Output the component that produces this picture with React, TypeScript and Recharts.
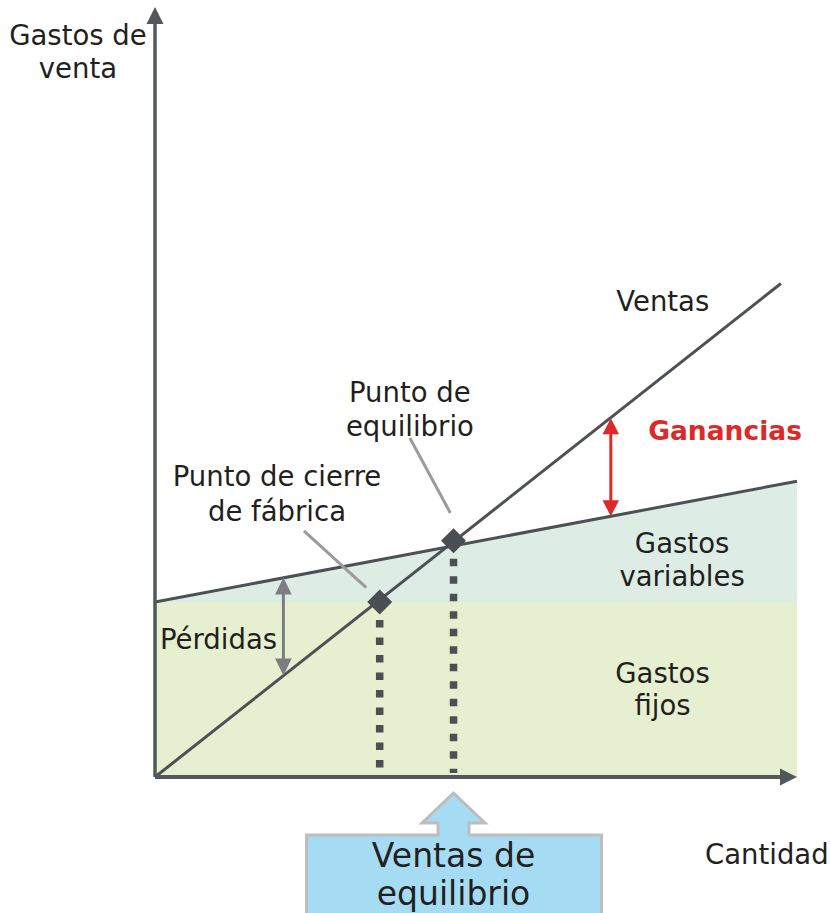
import React from "react";
import {
  Area,
  ComposedChart,
  Line,
  ReferenceDot,
  ReferenceLine,
  XAxis,
  YAxis,
} from "recharts";

// break-even diagram, values (arbitrary units)
const fixedCost = 100;
const costQty = [0, 100];
const costTotal = [100, 169];
const salesQty = [0, 97.5];
const salesAmount = [0, 282];
const shutdownPoint = { q: 35, v: 100 };
const breakEvenPoint = { q: 46.5, v: 135 };
const lossArrow = { q: 20, from: 114, to: 58 };
const profitArrow = { q: 71, from: 205, to: 149 };

const costRows = costQty.map((q, i) => ({
  q,
  fixed: fixedCost,
  total: costTotal[i],
  band: [fixedCost, costTotal[i]],
}));
const salesRows = salesQty.map((q, i) => ({ q, sales: salesAmount[i] }));

const FONT = "'DejaVu Sans', Verdana, sans-serif";
const INK = "#231f20";

function arrowHead(x: number, y: number, ux: number, uy: number, len: number, half: number) {
  const bx = x - ux * len;
  const by = y - uy * len;
  const px = -uy * half;
  const py = ux * half;
  return `${x},${y} ${bx + px},${by + py} ${bx - px},${by - py}`;
}

function Arrow(props: any) {
  const { x1, y1, x2, y2, color, width, len, half, both } = props;
  const dx = x2 - x1;
  const dy = y2 - y1;
  const d = Math.hypot(dx, dy) || 1;
  const ux = dx / d;
  const uy = dy / d;
  const sx = both ? x1 + ux * (len - 1) : x1;
  const sy = both ? y1 + uy * (len - 1) : y1;
  return (
    <g>
      <line
        x1={sx}
        y1={sy}
        x2={x2 - ux * (len - 1)}
        y2={y2 - uy * (len - 1)}
        stroke={color}
        strokeWidth={width}
      />
      <polygon points={arrowHead(x2, y2, ux, uy, len, half)} fill={color} />
      {both && <polygon points={arrowHead(x1, y1, -ux, -uy, len, half)} fill={color} />}
    </g>
  );
}

function Drop(props: any) {
  const { x1, y1, x2, y2 } = props;
  const top = Math.min(y1, y2) + 18;
  const bottom = Math.max(y1, y2) - 4;
  return (
    <line
      x1={x1}
      y1={top}
      x2={x2}
      y2={bottom}
      stroke="#4c4f54"
      strokeWidth={7.5}
      strokeDasharray="7.5 10"
    />
  );
}

function Diamond(props: any) {
  const { cx, cy } = props;
  const r = 12.5;
  return (
    <polygon
      points={`${cx},${cy - r} ${cx + r},${cy} ${cx},${cy + r} ${cx - r},${cy}`}
      fill="#4a4d52"
    />
  );
}

function Note(props: any) {
  const { cx, cy, lines, size = 27.5, bold, color = INK, anchor = "middle", lh = 34 } = props;
  return (
    <text
      x={cx}
      y={cy}
      fontFamily={FONT}
      fontSize={size}
      fontWeight={bold ? 700 : 400}
      fill={color}
      textAnchor={anchor}
    >
      {lines.map((t: string, i: number) => (
        <tspan key={i} x={cx} dy={i === 0 ? 0 : lh}>
          {t}
        </tspan>
      ))}
    </text>
  );
}

function EquilibriumBox(props: any) {
  const { cx, cy } = props;
  const x = cx;
  const y = cy;
  const path = [
    `M${x - 147},${y + 140}`,
    `L${x - 147},${y + 58}`,
    `L${x - 15.5},${y + 58}`,
    `L${x - 15.5},${y + 46}`,
    `L${x - 31.5},${y + 46}`,
    `L${x},${y + 16}`,
    `L${x + 31.5},${y + 46}`,
    `L${x + 15.5},${y + 46}`,
    `L${x + 15.5},${y + 58}`,
    `L${x + 148},${y + 58}`,
    `L${x + 148},${y + 140}`,
  ].join(" ");
  return (
    <g>
      <path d={path} fill="#a6dbf4" stroke="#bdbdbd" strokeWidth={3} />
      <text x={x} y={y + 90} fontFamily={FONT} fontSize={33} fill={INK} textAnchor="middle">
        <tspan x={x}>Ventas de</tspan>
        <tspan x={x} dy={38}>
          equilibrio
        </tspan>
      </text>
    </g>
  );
}

export default function App() {
  return (
    <div
      style={{
        position: "absolute",
        left: 0,
        top: 0,
        width: 831,
        height: 913,
        background: "#fff",
        overflow: "hidden",
      }}
    >
      <ComposedChart
        width={831}
        height={913}
        data={costRows}
        margin={{ top: 7, right: 34, bottom: 136, left: 155 }}
      >
        <XAxis type="number" dataKey="q" domain={[0, 100]} hide />
        <YAxis type="number" domain={[0, 440]} hide />
        <Area
          dataKey="fixed"
          fill="#e6efd0"
          fillOpacity={1}
          stroke="none"
          isAnimationActive={false}
        />
        <Area
          dataKey="band"
          fill="#ddede6"
          fillOpacity={1}
          stroke="none"
          isAnimationActive={false}
        />
        <Line
          dataKey="total"
          stroke="#4d5055"
          strokeWidth={3}
          dot={false}
          isAnimationActive={false}
        />
        <Line
          data={salesRows}
          dataKey="sales"
          stroke="#4d5055"
          strokeWidth={3}
          dot={false}
          isAnimationActive={false}
        />

        {/* axes with arrow heads */}
        <ReferenceLine
          segment={[{ x: 0, y: 0 }, { x: 0, y: 440 }]}
          ifOverflow="visible"
          shape={(p: any) => <Arrow {...p} color="#53565a" width={3.5} len={17} half={8.5} />}
        />
        <ReferenceLine
          segment={[{ x: 0, y: 0 }, { x: 100, y: 0 }]}
          ifOverflow="visible"
          shape={(p: any) => <Arrow {...p} color="#53565a" width={4} len={17} half={8.5} />}
        />

        {/* dotted drops */}
        <ReferenceLine
          segment={[{ x: shutdownPoint.q, y: shutdownPoint.v }, { x: shutdownPoint.q, y: 0 }]}
          ifOverflow="visible"
          shape={(p: any) => <Drop {...p} />}
        />
        <ReferenceLine
          segment={[{ x: breakEvenPoint.q, y: breakEvenPoint.v }, { x: breakEvenPoint.q, y: 0 }]}
          ifOverflow="visible"
          shape={(p: any) => <Drop {...p} />}
        />

        {/* loss / profit arrows */}
        <ReferenceLine
          segment={[{ x: lossArrow.q, y: lossArrow.from }, { x: lossArrow.q, y: lossArrow.to }]}
          ifOverflow="visible"
          shape={(p: any) => <Arrow {...p} color="#7b7e80" width={3} len={17} half={8.3} both />}
        />
        <ReferenceLine
          segment={[{ x: profitArrow.q, y: profitArrow.from }, { x: profitArrow.q, y: profitArrow.to }]}
          ifOverflow="visible"
          shape={(p: any) => <Arrow {...p} color="#dc2a28" width={3} len={16} half={8.3} both />}
        />

        {/* leader lines */}
        <ReferenceLine
          segment={[{ x: 39.7, y: 193.7 }, { x: 46, y: 150.9 }]}
          ifOverflow="visible"
          stroke="#9a9b9c"
          strokeWidth={3}
        />
        <ReferenceLine
          segment={[{ x: 23.2, y: 140.6 }, { x: 32.9, y: 108.2 }]}
          ifOverflow="visible"
          stroke="#9a9b9c"
          strokeWidth={3}
        />

        <ReferenceDot x={shutdownPoint.q} y={shutdownPoint.v} ifOverflow="visible" shape={(p: any) => <Diamond {...p} />} />
        <ReferenceDot x={breakEvenPoint.q} y={breakEvenPoint.v} ifOverflow="visible" shape={(p: any) => <Diamond {...p} />} />

        {/* labels */}
        <ReferenceDot x={-12} y={418.3} ifOverflow="visible" shape={(p: any) => <Note {...p} lines={["Gastos de", "venta"]} lh={33} />} />
        <ReferenceDot x={79.1} y={266.3} ifOverflow="visible" shape={(p: any) => <Note {...p} lines={["Ventas"]} />} />
        <ReferenceDot x={39.7} y={214.3} ifOverflow="visible" shape={(p: any) => <Note {...p} lines={["Punto de", "equilibrio"]} />} />
        <ReferenceDot x={88.8} y={192.6} ifOverflow="visible" shape={(p: any) => <Note {...p} lines={["Ganancias"]} bold size={26.5} color="#dc2a28" />} />
        <ReferenceDot x={19} y={166.3} ifOverflow="visible" shape={(p: any) => <Note {...p} lines={["Punto de cierre", "de fábrica"]} lh={35} />} />
        <ReferenceDot x={82.1} y={128} ifOverflow="visible" shape={(p: any) => <Note {...p} lines={["Gastos", "variables"]} lh={33} />} />
        <ReferenceDot x={0.78} y={73.1} ifOverflow="visible" shape={(p: any) => <Note {...p} lines={["Pérdidas"]} anchor="start" />} />
        <ReferenceDot x={79.05} y={53.5} ifOverflow="visible" shape={(p: any) => <Note {...p} lines={["Gastos", "fijos"]} lh={32} />} />
        <ReferenceDot x={95.3} y={-49.7} ifOverflow="visible" shape={(p: any) => <Note {...p} lines={["Cantidad"]} />} />

        <ReferenceDot x={breakEvenPoint.q} y={0} ifOverflow="visible" shape={(p: any) => <EquilibriumBox {...p} />} />
      </ComposedChart>
    </div>
  );
}
